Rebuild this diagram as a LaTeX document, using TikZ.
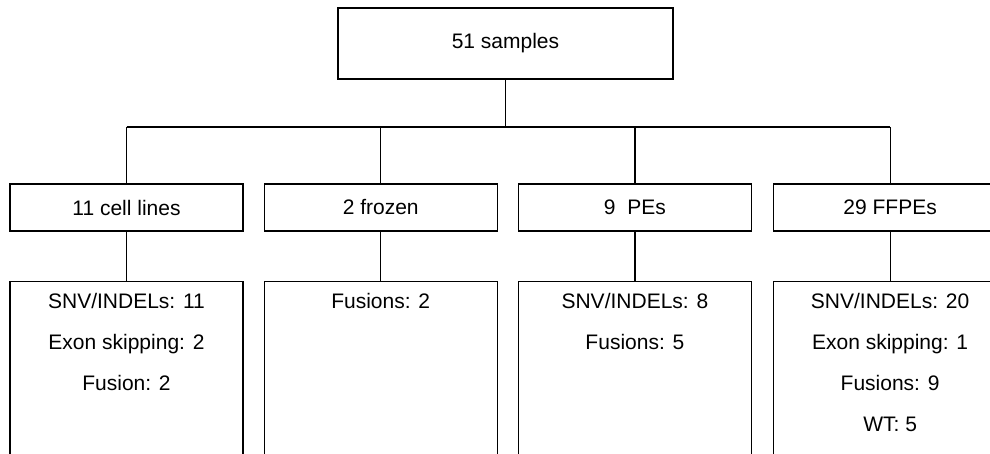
\documentclass[tikz,border=0pt]{standalone}
\usepackage{fontspec}
\setmainfont{Liberation Sans}
\usepackage{tikz}
\usetikzlibrary{positioning}

\tikzset{
    box/.style={draw, line width=1.2pt, inner sep=0pt, font=\fontsize{21}{41}\selectfont},
    groupbox/.style={box, minimum width=233pt, minimum height=47pt},
    resbox/.style={box, minimum width=233pt, inner ysep=12pt, anchor=north},
    link/.style={line width=1.2pt}
}
\newcommand{\restext}[1]{\parbox[t][180pt][t]{220pt}{\centering #1}}

\begin{document}
\begin{tikzpicture}[x=1pt, y=1pt]
    \useasboundingbox (0,0) rectangle (990,453);
    \clip (0,0) rectangle (990,453);

    % --- Top box ---
    \node[box, minimum width=335pt, minimum height=71pt] (samples) at (505.5, 409.5) {51 samples};

    % --- Sample types ---
    \node[groupbox] (cells) at (126.5, 245.5) {11 cell lines};
    \node[groupbox, right=20pt of cells] (frozen) {2 frozen};
    \node[groupbox, right=20pt of frozen] (pes) {9\ \ PEs};
    \node[groupbox, right=21pt of pes] (ffpes) {29 FFPEs};

    % --- Results ---
    \node[resbox, below=49pt of cells] (cells-res) {\restext{SNV/INDELs: 11\\Exon skipping: 2\\Fusion: 2}};
    \node[resbox, below=49pt of frozen] (frozen-res) {\restext{Fusions: 2}};
    \node[resbox, below=49pt of pes] (pes-res) {\restext{SNV/INDELs: 8\\Fusions: 5}};
    \node[resbox, below=49pt of ffpes] (ffpes-res) {\restext{SNV/INDELs: 20\\Exon skipping: 1\\Fusions: 9\\WT: 5}};

    % --- Connectors ---
    \coordinate (bus) at (0, 326);
    \draw[link] (samples.south) -- (samples.south |- bus);
    \draw[link] (cells.north |- bus) -- (ffpes.north |- bus);
    \foreach \n in {cells, frozen, pes, ffpes} {
        \draw[link] (\n.north |- bus) -- (\n.north);
        \draw[link] (\n.south) -- (\n-res.north);
    }
\end{tikzpicture}
\end{document}
